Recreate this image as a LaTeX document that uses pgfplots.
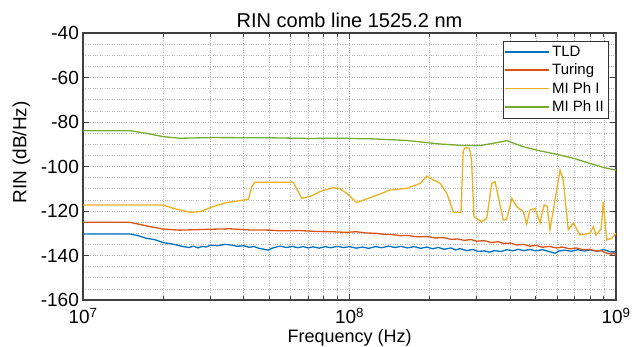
\documentclass[border=0pt]{standalone}
\usepackage{fontspec}
\setmainfont{Liberation Sans}
\usepackage{pgfplots}
\pgfplotsset{compat=1.18}
\definecolor{mblue}{rgb}{0,0.447,0.741}
\definecolor{mred}{rgb}{0.85,0.325,0.098}
\definecolor{myellow}{rgb}{0.929,0.694,0.125}
\definecolor{mgreen}{rgb}{0.466,0.674,0.188}
\begin{document}
\begin{tikzpicture}
\begin{axis}[
  at={(0pt,0pt)}, anchor=south west,
  scale only axis, width=533pt, height=267pt,
  xmode=log, xmin=1e7, xmax=1e9, ymin=-160, ymax=-40,
  xtick={1e7,1e8,1e9},
  xticklabels={10\textsuperscript{7},10\textsuperscript{8},10\textsuperscript{9}},
  ytick={-160,-140,-120,-100,-80,-60,-40},
  yticklabels={-160,-140,-120,-100,-80,-60,-40},
  minor ytick={-155,-150,...,-45},
  grid=both,
  major grid style={dotted, gray!70, line width=0.6pt},
  minor grid style={dotted, gray!55, line width=0.6pt},
  tick align=inside,
  major tick length=6pt, minor tick length=4pt,
  minor y tick style={draw=none},
  tick style={black!75, line width=0.8pt},
  axis line style={black!75, line width=1.1pt},
  tick label style={font=\fontsize{19}{21}\selectfont},
  xticklabel style={inner sep=0pt, yshift=-8pt},
  yticklabel style={inner sep=0pt, xshift=-4pt},
  title={RIN comb line 1525.2 nm},
  title style={font=\fontsize{20}{22}\selectfont, yshift=-4pt},
  xlabel={Frequency (Hz)},
  ylabel={RIN (dB/Hz)},
  label style={font=\fontsize{19}{21}\selectfont},
  xlabel style={at={(0.5,0)}, anchor=north, yshift=-29pt, inner sep=0pt, font=\fontsize{18}{20}\selectfont},
  ylabel style={yshift=7pt, xshift=14pt},
  legend style={at={(1,1)}, anchor=north east, xshift=-8pt, yshift=-8pt,
    font=\fontsize{15}{17}\selectfont, draw=black!80,
    inner xsep=2pt, inner ysep=3pt, row sep=2pt, cells={anchor=west}},
  legend image code/.code={\draw[#1, line width=1.4pt] (0pt,0pt) -- (44pt,0pt);},
]
\addplot[mblue, line width=1.3pt] coordinates {
(1e7,-130.3)(1.5e7,-130.3)(1.6e7,-131.0)(1.73e7,-132.3)(1.85e7,-132.8)(2.0e7,-134.2)(2.2e7,-135.0)(2.35e7,-135.9)(2.5e7,-136.4)(2.6e7,-135.8)(2.7e7,-136.6)(2.8e7,-135.9)(2.9e7,-136.2)(3.0e7,-135.4)(3.2e7,-135.6)(3.4e7,-135.0)(3.6e7,-135.3)(3.8e7,-135.9)(4.0e7,-135.6)(4.2e7,-136.3)(4.4e7,-136.0)(4.6e7,-136.9)(4.8e7,-137.2)(4.95e7,-137.6)(5.1e7,-136.8)(5.3e7,-136.2)(5.5e7,-135.8)(5.8e7,-136.4)(6.1e7,-135.9)(6.4e7,-136.5)(6.7e7,-136.0)(7.0e7,-136.6)(7.3e7,-136.1)(7.7e7,-136.7)(8.1e7,-136.0)(8.5e7,-136.5)(9.0e7,-135.9)(9.5e7,-136.4)(1.0e8,-136.0)(1.06e8,-136.7)(1.12e8,-136.2)(1.18e8,-136.8)(1.25e8,-136.0)(1.32e8,-136.5)(1.4e8,-135.8)(1.48e8,-136.4)(1.56e8,-135.9)(1.65e8,-136.6)(1.75e8,-136.0)(1.85e8,-136.8)(1.95e8,-136.2)(2.05e8,-137.0)(2.15e8,-136.4)(2.27e8,-137.2)(2.4e8,-136.6)(2.5e8,-137.5)(2.6e8,-136.9)(2.75e8,-137.8)(2.9e8,-137.3)(3.05e8,-138.2)(3.2e8,-137.9)(3.35e8,-138.5)(3.5e8,-137.8)(3.7e8,-138.2)(3.9e8,-137.4)(4.1e8,-137.9)(4.3e8,-137.2)(4.5e8,-137.8)(4.75e8,-137.3)(5.0e8,-137.9)(5.3e8,-137.4)(5.6e8,-138.2)(5.9e8,-139.0)(6.1e8,-138.0)(6.4e8,-137.6)(6.8e8,-138.1)(7.2e8,-137.4)(7.6e8,-138.0)(8.0e8,-137.5)(8.5e8,-138.1)(9.0e8,-137.3)(9.5e8,-138.4)(1e9,-138.3)
};
\addlegendentry{TLD}
\addplot[mred, line width=1.3pt] coordinates {
(1e7,-125.1)(1.5e7,-125.1)(1.6e7,-125.8)(1.73e7,-126.7)(1.85e7,-127.4)(2.0e7,-128.1)(2.3e7,-128.6)(2.67e7,-128.4)(3.0e7,-128.2)(3.56e7,-128.0)(4.2e7,-128.5)(5.0e7,-128.6)(5.48e7,-128.9)(6.5e7,-128.8)(7.5e7,-129.2)(8.5e7,-129.3)(9.75e7,-129.6)(1.06e8,-129.3)(1.15e8,-129.9)(1.25e8,-130.0)(1.35e8,-130.5)(1.45e8,-130.6)(1.55e8,-131.1)(1.65e8,-131.0)(1.8e8,-131.6)(1.95e8,-131.5)(2.1e8,-132.1)(2.25e8,-132.0)(2.4e8,-132.7)(2.55e8,-132.6)(2.7e8,-133.2)(2.85e8,-132.8)(3.0e8,-133.6)(3.2e8,-133.3)(3.4e8,-134.2)(3.6e8,-133.8)(3.8e8,-134.6)(4.0e8,-134.4)(4.25e8,-135.3)(4.5e8,-135.0)(4.75e8,-135.8)(5.0e8,-135.4)(5.3e8,-136.3)(5.6e8,-135.9)(5.98e8,-136.6)(6.3e8,-136.2)(6.7e8,-137.0)(7.1e8,-136.6)(7.5e8,-137.4)(7.98e8,-137.2)(8.4e8,-138.0)(8.8e8,-137.8)(9.23e8,-139.0)(9.6e8,-139.4)(9.8e8,-138.8)(1e9,-139.8)
};
\addlegendentry{Turing}
\addplot[myellow, line width=1.3pt] coordinates {
(1e7,-117.3)(2.0e7,-117.3)(2.18e7,-118.8)(2.52e7,-120.6)(2.75e7,-120.3)(3.08e7,-118.0)(3.46e7,-116.2)(4.0e7,-115.1)(4.17e7,-114.8)(4.30e7,-109.1)(4.42e7,-107.1)(6.15e7,-107.1)(6.62e7,-114.3)(7.11e7,-113.5)(7.74e7,-111.3)(8.69e7,-109.5)(9.2e7,-110.0)(9.75e7,-112.0)(1.064e8,-116.2)(1.227e8,-113.5)(1.419e8,-110.6)(1.641e8,-109.8)(1.841e8,-107.6)(1.95e8,-104.3)(2.065e8,-106.1)(2.188e8,-107.6)(2.317e8,-112.0)(2.455e8,-120.7)(2.62e8,-120.5)(2.67e8,-93.0)(2.72e8,-91.5)(2.82e8,-91.8)(2.87e8,-97.0)(2.93e8,-122.5)(3.133e8,-124.8)(3.273e8,-123.3)(3.42e8,-107.6)(3.516e8,-106.8)(3.614e8,-113.5)(3.776e8,-124.0)(3.89e8,-123.8)(4.064e8,-114.3)(4.236e8,-118.0)(4.487e8,-120.3)(4.624e8,-125.8)(4.753e8,-119.6)(4.966e8,-118.8)(5.188e8,-125.4)(5.37e8,-117.3)(5.52e8,-118.0)(5.65e8,-128.5)(6.0e8,-110.0)(6.166e8,-101.6)(6.34e8,-106.1)(6.62e8,-128.5)(6.92e8,-125.4)(7.33e8,-130.8)(7.98e8,-130.0)(8.22e8,-127.1)(8.41e8,-130.8)(8.8e8,-128.0)(8.95e8,-115.8)(9.1e8,-125.0)(9.23e8,-133.0)(9.64e8,-132.3)(1e9,-130.0)
};
\addlegendentry{MI Ph I}
\addplot[mgreen, line width=1.3pt] coordinates {
(1e7,-83.9)(1.5e7,-83.9)(1.73e7,-85.1)(2.0e7,-86.6)(2.31e7,-87.3)(3.08e7,-87.0)(5e7,-87.1)(7e7,-87.4)(9.2e7,-87.3)(1.227e8,-87.6)(1.641e8,-88.3)(2.188e8,-89.9)(2.673e8,-90.6)(3.09e8,-90.6)(3.565e8,-89.3)(3.89e8,-88.4)(4.487e8,-91.1)(5.188e8,-93.0)(5.98e8,-94.5)(6.92e8,-96.3)(7.98e8,-98.6)(9.23e8,-100.8)(1e9,-101.6)
};
\addlegendentry{MI Ph II}
\end{axis}
\pgfresetboundingbox
\path (-83pt,-47pt) rectangle (549pt,300pt);
\end{tikzpicture}
\end{document}
